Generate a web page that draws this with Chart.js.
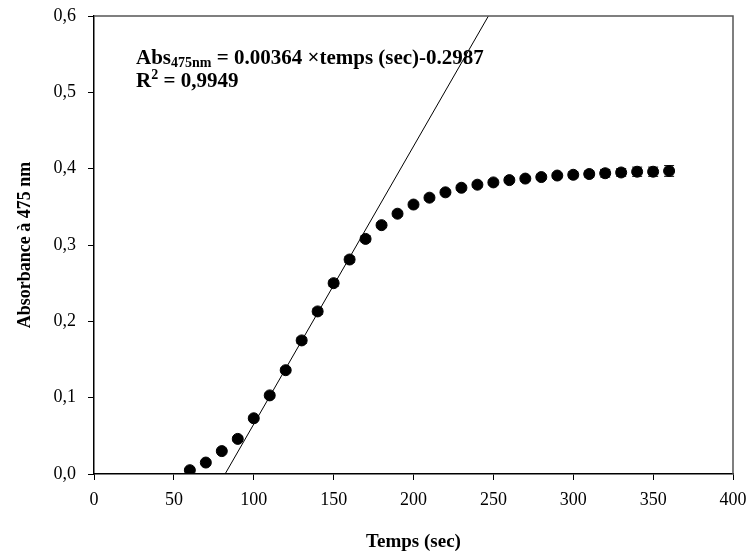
<!DOCTYPE html>
<html>
<head>
<meta charset="utf-8">
<script src="https://cdn.jsdelivr.net/npm/chart.js@4"></script>
<style>
  html, body { margin: 0; padding: 0; background: #fff; }
  #wrap { width: 749px; height: 557px; position: relative; }
</style>
</head>
<body>
<div id="wrap"><canvas id="chart"></canvas></div>
<script>
  // data
  const times = [60, 70, 80, 90, 100, 110, 120, 130, 140, 150, 160, 170, 180, 190, 200, 210,
                 220, 230, 240, 250, 260, 270, 280, 290, 300, 310, 320, 330, 340, 350, 360];
  const absorbance = [0.005, 0.015, 0.030, 0.046, 0.073, 0.103, 0.136, 0.175, 0.213, 0.250, 0.281,
                      0.308, 0.326, 0.341, 0.353, 0.362, 0.369, 0.375, 0.379, 0.382, 0.385, 0.387,
                      0.389, 0.391, 0.392, 0.393, 0.394, 0.395, 0.396, 0.396, 0.397];
  const errors = [0.002, 0.002, 0.002, 0.003, 0.003, 0.003, 0.003, 0.004, 0.004, 0.004, 0.004,
                  0.004, 0.003, 0.003, 0.003, 0.003, 0.003, 0.003, 0.003, 0.003, 0.003, 0.003,
                  0.003, 0.003, 0.004, 0.004, 0.005, 0.005, 0.006, 0.006, 0.007];
  const xTicks = [0, 50, 100, 150, 200, 250, 300, 350, 400];
  const yTicks = [0, 0.1, 0.2, 0.3, 0.4, 0.5, 0.6];

  // linear fit: Abs = slope * t + intercept
  const slope = 0.00364;
  const intercept = -0.2987;
  const fitLine = [
    { x: (0 - intercept) / slope, y: 0 },
    { x: (0.6 - intercept) / slope, y: 0.6 }
  ];

  const serif = "'Liberation Serif', 'Times New Roman', serif";

  const errorBars = {
    id: 'errorBars',
    afterDatasetsDraw(chart) {
      const ctx = chart.ctx;
      const xs = chart.scales.x, ys = chart.scales.y;
      ctx.save();
      ctx.strokeStyle = '#000';
      ctx.lineWidth = 1;
      absorbance.forEach((v, i) => {
        const px = xs.getPixelForValue(times[i]);
        const top = ys.getPixelForValue(v + errors[i]);
        const bot = ys.getPixelForValue(v - errors[i]);
        ctx.beginPath();
        ctx.moveTo(px, top); ctx.lineTo(px, bot);
        ctx.moveTo(px - 5, top); ctx.lineTo(px + 5, top);
        ctx.moveTo(px - 5, bot); ctx.lineTo(px + 5, bot);
        ctx.stroke();
      });
      ctx.restore();
    }
  };

  const frame = {
    id: 'frame',
    afterDraw(chart) {
      const { ctx, chartArea: a } = chart;
      ctx.save();
      ctx.strokeStyle = '#555';
      ctx.lineWidth = 1.5;
      ctx.beginPath();
      ctx.moveTo(a.left, a.top); ctx.lineTo(a.right, a.top); ctx.lineTo(a.right, a.bottom);
      ctx.stroke();

      // equation text
      ctx.fillStyle = '#000';
      ctx.textBaseline = 'alphabetic';
      ctx.textAlign = 'left';
      const big = "bold 21px " + serif;
      const small = "bold 14px " + serif;
      let x = a.left + 42, y = a.top + 48;
      ctx.font = big; ctx.fillText('Abs', x, y); x += ctx.measureText('Abs').width;
      ctx.font = small; ctx.fillText('475nm', x, y + 3); x += ctx.measureText('475nm').width;
      ctx.font = big; ctx.fillText(' = 0.00364 \u00d7temps (sec)-0.2987', x, y);
      x = a.left + 42; y += 23;
      ctx.fillText('R', x, y); x += ctx.measureText('R').width;
      ctx.font = small; ctx.fillText('2', x, y - 8); x += ctx.measureText('2').width;
      ctx.font = big; ctx.fillText(' = 0,9949', x, y);
      ctx.restore();
    }
  };

  new Chart(document.getElementById('chart'), {
    type: 'scatter',
    data: {
      datasets: [{
        label: 'Absorbance',
        data: times.map((t, i) => ({ x: t, y: absorbance[i] })),
        backgroundColor: '#000',
        borderColor: '#000',
        pointRadius: 5.5,
        pointHoverRadius: 5.5
      }, {
        label: 'Régression',
        type: 'line',
        data: fitLine,
        borderColor: '#000',
        borderWidth: 1,
        pointRadius: 0,
        fill: false
      }]
    },
    options: {
      responsive: true,
      maintainAspectRatio: false,
      animation: false,
      layout: { padding: { top: 16, right: 16, left: 11, bottom: 0 } },
      plugins: { legend: { display: false }, tooltip: { enabled: false } },
      scales: {
        x: {
          type: 'linear',
          min: 0, max: 400,
          afterBuildTicks: s => { s.ticks = xTicks.map(v => ({ value: v })); },
          afterFit: s => { s.height = 83; s.paddingLeft = 0; s.paddingRight = 0; },
          grid: { drawOnChartArea: false, tickLength: 6, color: '#000' },
          border: { color: '#000', width: 1.5 },
          ticks: { color: '#000', font: { family: serif, size: 18 }, padding: 9, maxRotation: 0 },
          title: { display: true, text: 'Temps (sec)', color: '#000',
                   font: { family: serif, size: 19, weight: 'bold' } }
        },
        y: {
          min: 0, max: 0.6,
          afterBuildTicks: s => { s.ticks = yTicks.map(v => ({ value: v })); },
          afterFit: s => { s.width = 83; s.paddingTop = 0; s.paddingBottom = 0; },
          grid: { drawOnChartArea: false, tickLength: 6, color: '#000' },
          border: { color: '#000', width: 1.5 },
          ticks: { color: '#000', font: { family: serif, size: 18 }, padding: 12,
                   callback: v => v.toFixed(1).replace('.', ',') },
          title: { display: true, text: 'Absorbance à 475 nm', color: '#000',
                   font: { family: serif, size: 18, weight: 'bold' } }
        }
      }
    },
    plugins: [errorBars, frame]
  });
</script>
</body>
</html>
